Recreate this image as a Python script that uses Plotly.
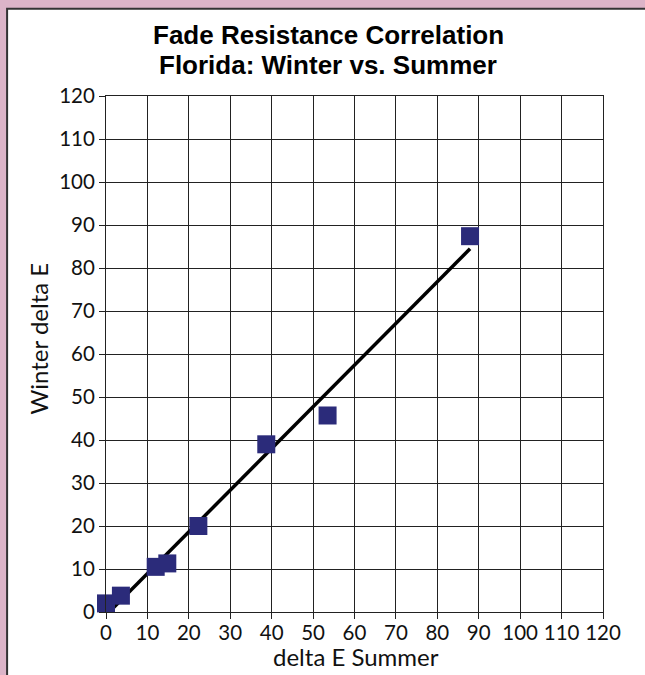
import numpy as np
import plotly.graph_objects as go

# summer vs winter delta E readings
summer_delta_e = [0, 3.6, 12, 14.8, 22.3, 38.7, 53.5, 87.9]
winter_delta_e = [2, 3.8, 10.5, 11.3, 20, 39, 45.7, 87.4]

x_ticks = list(range(0, 121, 10))
y_ticks = list(range(0, 121, 10))

title_lines = ["Fade Resistance Correlation", "Florida: Winter vs. Summer"]
x_title = "delta E Summer"
y_title = "Winter delta E"

pink = "#dcb4c8"
navy = "#2b2b7a"
tick_font = dict(family="Lato", size=20.5, color="#111111")
label_font = dict(family="Lato", size=24, color="#111111")
title_font = dict(family="Liberation Sans", size=26, color="black")


def trend_line(xs, ys):
    slope, intercept = np.polyfit(xs, ys, 1)
    x_line = np.array([min(xs), max(xs)])
    return x_line, slope * x_line + intercept


def plot():
    x_line, y_line = trend_line(summer_delta_e, winter_delta_e)

    fig = go.Figure()
    fig.add_trace(
        go.Scatter(
            x=x_line,
            y=y_line,
            mode="lines",
            line=dict(color="black", width=3.5),
            hoverinfo="skip",
        )
    )
    fig.add_trace(
        go.Scatter(
            x=summer_delta_e,
            y=winter_delta_e,
            mode="markers",
            marker=dict(symbol="square", size=18, color=navy),
            cliponaxis=False,
        )
    )

    axis_common = dict(
        range=[0, 120],
        showgrid=True,
        gridcolor="#222222",
        gridwidth=1,
        showline=True,
        linecolor="#222222",
        linewidth=1,
        mirror=True,
        ticks="outside",
        ticklen=6,
        tickcolor="#222222",
        tickfont=tick_font,
        zeroline=False,
    )
    fig.update_xaxes(tickvals=x_ticks, ticklabelstandoff=-4, **axis_common)
    fig.update_yaxes(tickvals=y_ticks, **axis_common)

    def note(text, x, y, font, angle=0):
        return dict(
            text=text,
            xref="paper",
            yref="paper",
            x=x,
            y=y,
            xanchor="center",
            yanchor="middle",
            textangle=angle,
            showarrow=False,
            font=font,
        )

    fig.update_layout(
        width=645,
        height=675,
        margin={"l": 106, "r": 42, "t": 96, "b": 63},
        paper_bgcolor=pink,
        plot_bgcolor="white",
        showlegend=False,
        shapes=[
            dict(
                type="rect",
                xref="paper",
                yref="paper",
                x0=-0.199,
                x1=1.2,
                y0=-0.2,
                y1=1.169,
                fillcolor="white",
                line=dict(color="#333333", width=2),
                layer="below",
            )
        ],
        annotations=[
            note(f"<b>{title_lines[0]}</b>", 0.447, 1.1173, title_font),
            note(f"<b>{title_lines[1]}</b>", 0.447, 1.0601, title_font),
            note(x_title, 0.503, -0.0872, label_font),
            note(y_title, -0.135, 0.53, label_font, angle=-90),
        ],
    )

    # drop the browser's default body margin so the figure sits at the corner
    fig.write_html(
        "out.html",
        config={"displayModeBar": False},
        post_script="document.body.style.margin='0';",
    )


if __name__ == "__main__":
    plot()
